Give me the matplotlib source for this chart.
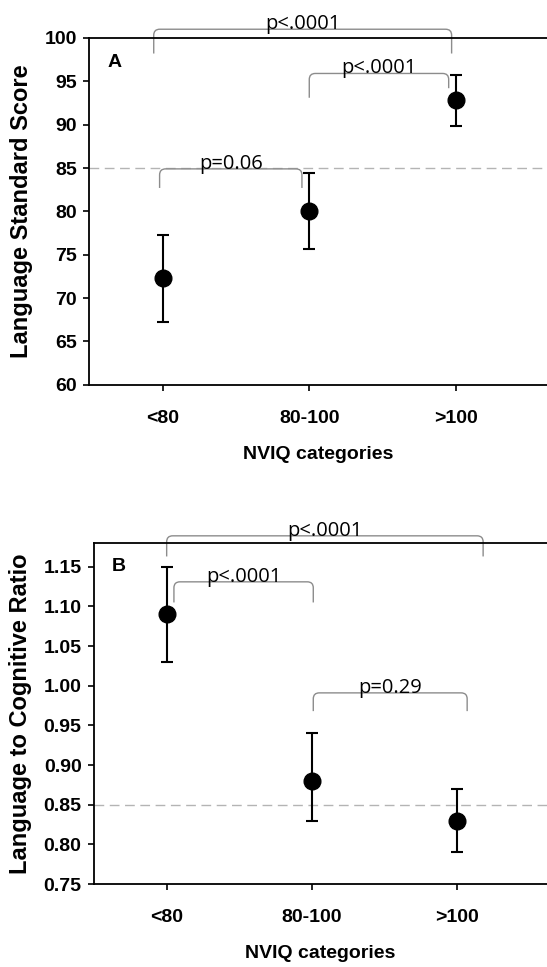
import matplotlib.pyplot as plt
from matplotlib.path import Path
from matplotlib.patches import PathPatch

CATEGORIES = ["<80", "80-100", ">100"]

# panel A: language standard score (mean, lower, upper)
A_MEAN = [72.3, 80.1, 92.8]
A_LOW = [67.2, 75.7, 89.8]
A_HIGH = [77.3, 84.4, 95.7]
A_REF = 85
# brackets: x0, x1, top, left leg end, right leg end, label
A_BRACKETS = [
    (-0.06, 1.97, 101.0, 98.2, 98.2, "p<.0001"),
    (1.0, 1.95, 95.9, 93.1, 94.2, "p<.0001"),
    (-0.02, 0.95, 84.9, 82.7, 82.7, "p=0.06"),
]

# panel B: language to cognitive ratio
B_MEAN = [1.09, 0.88, 0.83]
B_LOW = [1.03, 0.83, 0.79]
B_HIGH = [1.15, 0.94, 0.87]
B_REF = 0.85
B_BRACKETS = [
    (0.0, 2.18, 1.189, 1.163, 1.163, "p<.0001"),
    (0.05, 1.01, 1.131, 1.105, 1.105, "p<.0001"),
    (1.01, 2.07, 0.991, 0.968, 0.968, "p=0.29"),
]

BOLD = "Liberation Sans"
TXT = "Open Sans"
GREY = "#8c8c8c"


def draw_bracket(ax, x0, x1, ytop, y0, y1, label, r=6):
    # rounded-corner bracket, r in pixels
    ax.figure.canvas.draw()
    p0 = ax.transData.transform((0, 0))
    px, py = ax.transData.transform((1, 1)) - p0
    rx, ry = r / px, r / abs(py)
    verts = [(x0, y0), (x0, ytop - ry), (x0, ytop), (x0 + rx, ytop),
             (x1 - rx, ytop), (x1, ytop), (x1, ytop - ry), (x1, y1)]
    codes = [Path.MOVETO, Path.LINETO, Path.CURVE3, Path.CURVE3,
             Path.LINETO, Path.CURVE3, Path.CURVE3, Path.LINETO]
    ax.add_patch(PathPatch(Path(verts, codes), fill=False, edgecolor=GREY,
                           lw=1.0, clip_on=False))
    ax.text((x0 + x1) / 2, ytop, label, ha="center", va="baseline",
            fontsize=14.5, family=TXT, clip_on=False)


def panel(ax, mean, low, high, ref, brackets, ylim, yticks, fmt, ylabel, tag):
    x = list(range(len(CATEGORIES)))
    yerr = [[m - l for m, l in zip(mean, low)], [h - m for m, h in zip(mean, high)]]
    ax.axhline(ref, color="#b4b4b4", lw=1.0, ls=(0, (7, 4)), zorder=1)
    ax.errorbar(x, mean, yerr=yerr, fmt="o", color="black", ms=12,
                elinewidth=1.5, capsize=4, capthick=1.5, zorder=3)
    ax.set_xlim(-0.5, 2.62)
    ax.set_ylim(*ylim)
    ax.set_yticks(yticks)
    ax.set_yticklabels([fmt.format(t) for t in yticks])
    ax.set_xticks(x)
    ax.set_xticklabels(CATEGORIES)
    for lab in ax.get_xticklabels() + ax.get_yticklabels():
        lab.set_fontweight("bold")
        lab.set_family(BOLD)
        lab.set_fontsize(14)
    ax.tick_params(axis="x", length=4, width=1.2, pad=14)
    ax.tick_params(axis="y", length=4, width=1.2, pad=5)
    for s in ("left", "bottom", "top"):
        ax.spines[s].set_linewidth(1.3)
    ax.spines["right"].set_visible(False)
    ax.set_xlabel("NVIQ categories", fontsize=14, fontweight="bold",
                  family=BOLD, labelpad=14)
    ax.set_ylabel(ylabel, fontsize=17, fontweight="bold", family=BOLD)
    ax.text(0.04, 0.93, tag, transform=ax.transAxes, fontsize=14,
            fontweight="bold", family=BOLD, va="center")
    for b in brackets:
        draw_bracket(ax, *b)


fig = plt.figure(figsize=(5.47, 9.67), dpi=100)
ax1 = fig.add_axes([0.163, 0.602, 0.837, 0.3588])
ax2 = fig.add_axes([0.172, 0.0858, 0.828, 0.3527])

panel(ax1, A_MEAN, A_LOW, A_HIGH, A_REF, A_BRACKETS, (60, 100),
      list(range(60, 101, 5)), "{:d}", "Language Standard Score", "A")
panel(ax2, B_MEAN, B_LOW, B_HIGH, B_REF, B_BRACKETS, (0.75, 1.18),
      [0.75, 0.80, 0.85, 0.90, 0.95, 1.00, 1.05, 1.10, 1.15], "{:.2f}",
      "Language to Cognitive Ratio", "B")
ax1.yaxis.set_label_coords(-0.122, 0.5)
ax2.yaxis.set_label_coords(-0.137, 0.5)

fig.savefig("out.png", dpi=100)
